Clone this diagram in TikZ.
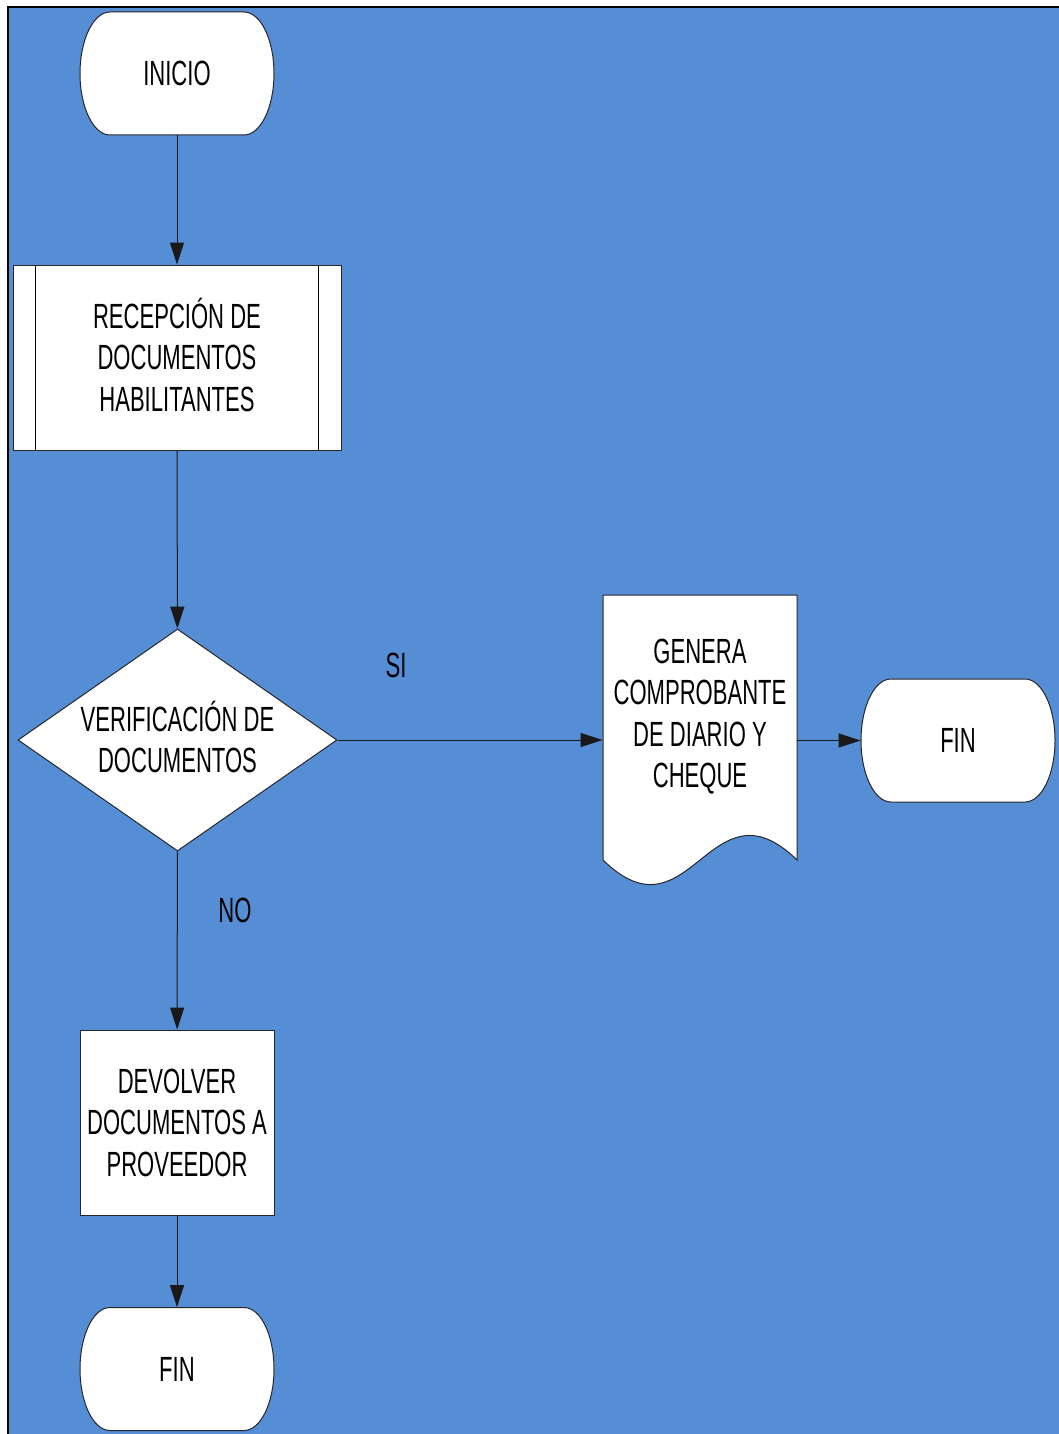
\documentclass[tikz,border=0pt]{standalone}
\usepackage{fontspec}
\setmainfont{Liberation Sans}[FakeStretch=0.63]
\usetikzlibrary{shapes.geometric,arrows.meta}
\definecolor{fondo}{RGB}{85,142,213}

% terminal outline: name, x, y, text
\newcommand{\terminal}[4]{%
  \draw[contorno] ({#2-67},{#3-61.5}) -- ({#2+67},{#3-61.5})
    arc[start angle=90, end angle=-90, x radius=15pt, y radius=30.75pt]
    -- ({#2-67},{#3+61.5})
    arc[start angle=270, end angle=90, x radius=15pt, y radius=30.75pt] -- cycle;
  \node[term] (#1) at (#2,#3) {#4};}

\begin{document}
\begin{tikzpicture}[x=0.5pt, y=-0.5pt,
    every node/.style={
    font=\fontsize{17.5}{20.75}\selectfont,
    align=center,
    inner sep=0pt},
    contorno/.style={draw=black!85, fill=white, line width=0.5pt},
    term/.style={rectangle, minimum width=97pt, minimum height=61.5pt},
    proceso/.style={contorno, rectangle, minimum height=92.5pt},
    decision/.style={contorno, diamond, aspect=1.44,
        minimum width=159.5pt, minimum height=111pt},
    arr/.style={-{Triangle[length=11pt,width=7pt]}, line width=0.5pt, draw=black!90}]

    \useasboundingbox (0,0) rectangle (1059,1434);
    \fill[white] (0,0) rectangle (1059,1434);
    \fill[fondo] (8,7) rectangle (1059,1434);
    \draw[line width=1.2pt] (8,1434) -- (8,7) -- (1059,7);

    \terminal{ini}{177}{73.5}{INICIO}

    \node[proceso, minimum width=164pt] (rec) at (177,357.5)
        {RECEPCI\smash{Ó}N DE\\DOCUMENTOS\\HABILITANTES};
    \draw[line width=0.5pt] (rec.north west) ++(23,0) -- ++(0,185);
    \draw[line width=0.5pt] (rec.north east) ++(-23,0) -- ++(0,185);

    \node[decision] (ver) at (177.5,740) {VERIFICACI\smash{Ó}N DE\\DOCUMENTOS};

    % documento con borde ondulado
    \draw[contorno] (603,595) -- (797,595) -- (797,860)
        .. controls (710,775) and (690,945) .. (603,860) -- cycle;
    \node[minimum width=97pt] (gen) at (700,713.5)
        {GENERA\\COMPROBANTE\\DE DIARIO Y\\CHE\smash{Q}UE};

    \terminal{fin1}{958}{740.5}{FIN}

    \node[proceso, minimum width=97pt] (dev) at (177,1122.5)
        {DEVOLVER\\DOCUMENTOS A\\PROVEEDOR};

    \terminal{fin2}{177}{1369}{FIN}

    \node (si) at (396,665) {SI};
    \node (no) at (235,910) {NO};

    \draw[arr] (ini) -- (rec);
    \draw[arr] (rec) -- (ver);
    \draw[arr] (ver.east) -- (ver.east -| gen.west);
    \draw[arr] (gen.east |- fin1.west) -- (fin1.west);
    \draw[arr] (ver) -- (dev);
    \draw[arr] (dev) -- (fin2);
\end{tikzpicture}
\end{document}
